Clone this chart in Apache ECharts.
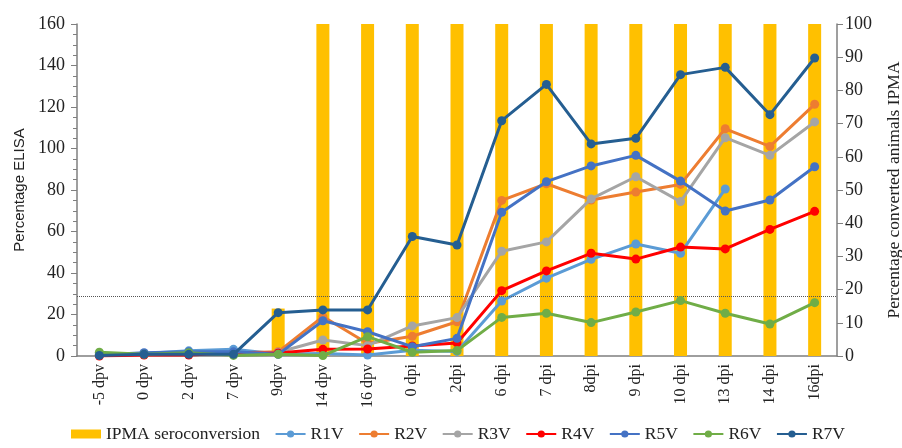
<!DOCTYPE html>
<html>
<head>
<meta charset="utf-8">
<script src="https://cdn.jsdelivr.net/npm/echarts@6/dist/echarts.min.js"></script>
<style>
  html, body { margin: 0; padding: 0; background: #fff; }
  #chart { width: 902px; height: 448px; }
</style>
</head>
<body>
<div id="chart"></div>
<script>
const categories = ["-5 dpv", "0 dpv", "2 dpv", "7 dpv", "9dpv", "14 dpv", "16 dpv", "0 dpi", "2dpi",
  "6 dpi", "7 dpi", "8dpi", "9 dpi", "10 dpi", "13 dpi", "14 dpi", "16dpi"];

// % animals converted by IPMA (right axis)
const ipma = [0, 0, 0, 0, 14.29, 100, 100, 100, 100, 100, 100, 100, 100, 100, 100, 100, 100];

// % ELISA per animal (left axis)
const r1v = [1.0, 1.2, 2.5, 3.2, 1.0, 1.2, 0.5, 2.8, 2.2, 26.5, 37.5, 46.6, 54.0, 49.5, 80.5, null, null];
const r2v = [0.5, 0.8, 1.0, 1.5, 2.0, 19.0, 6.0, 9.5, 16.5, 75.0, 83.0, 75.2, 79.0, 82.7, 109.5, 101.0, 121.3];
const r3v = [0.5, 0.8, 1.0, 1.5, 1.8, 7.7, 5.0, 14.5, 18.5, 50.5, 55.0, 75.7, 86.4, 74.4, 105.2, 96.7, 112.8];
const r4v = [0.0, 0.5, 0.5, 1.5, 1.5, 3.2, 3.4, 4.8, 6.3, 31.5, 41.0, 49.5, 46.7, 52.5, 51.6, 61.0, 69.7];
const r5v = [0.5, 1.6, 2.0, 2.0, 0.8, 17.0, 11.7, 4.5, 8.5, 69.3, 84.0, 91.6, 96.7, 84.3, 69.9, 75.2, 91.2];
const r6v = [1.8, 0.8, 1.6, 0.3, 0.8, 0.2, 9.3, 1.8, 2.6, 18.6, 20.6, 16.1, 21.2, 26.7, 20.6, 15.4, 25.7];
const r7v = [0.3, 0.8, 0.8, 0.8, 20.9, 22.2, 22.2, 57.6, 53.5, 113.4, 130.9, 102.2, 104.9, 135.6, 139.1, 116.3, 143.6];

const cutoff = 29; // ELISA cut-off line

const serif = "'Liberation Serif', 'DejaVu Serif', serif";
const sans = "'Liberation Sans', 'Noto Sans', sans-serif";

const lineSeries = [
  { name: "R1V", data: r1v, color: "#5B9BD5" },
  { name: "R2V", data: r2v, color: "#ED7D31" },
  { name: "R3V", data: r3v, color: "#A5A5A5" },
  { name: "R4V", data: r4v, color: "#FF0000" },
  { name: "R5V", data: r5v, color: "#4472C4" },
  { name: "R6V", data: r6v, color: "#70AD47" },
  { name: "R7V", data: r7v, color: "#255E91" },
].map((s, i) => ({
  name: s.name,
  type: "line",
  yAxisIndex: 0,
  data: s.data,
  symbol: "circle",
  symbolSize: 9,
  connectNulls: false,
  z: 3 + i,
  lineStyle: { color: s.color, width: 3 },
  itemStyle: { color: s.color },
  markLine: i === 0 ? {
    silent: true,
    symbol: "none",
    label: { show: false },
    lineStyle: { color: "#555", type: "dotted", width: 1 },
    data: [{ yAxis: cutoff }],
  } : undefined,
}));

const chart = echarts.init(document.getElementById("chart"));

chart.setOption({
  animation: false,
  grid: { left: 77, right: 65, top: 24, bottom: 92, outerBoundsMode: "none" },
  legend: {
    bottom: 0,
    left: 66,
    itemGap: 14.5,
    itemWidth: 30,
    itemHeight: 9,
    textStyle: { fontFamily: serif, fontSize: 17.5, color: "#222" },
    data: [
      { name: "IPMA seroconversion", icon: "rect" },
      "R1V", "R2V", "R3V", "R4V", "R5V", "R6V", "R7V",
    ],
  },
  xAxis: {
    type: "category",
    data: categories,
    axisLine: { lineStyle: { color: "#7f7f7f", width: 1.5 } },
    axisTick: { show: false },
    axisLabel: {
      rotate: 90,
      fontFamily: serif,
      fontSize: 16,
      color: "#222",
      margin: 8,
      interval: 0,
    },
  },
  yAxis: [
    {
      type: "value",
      min: 0,
      max: 160,
      interval: 20,
      name: "Percentage ELISA",
      nameLocation: "middle",
      nameRotate: 90,
      nameGap: 45,
      nameTextStyle: { fontFamily: sans, fontSize: 15, color: "#222" },
      axisLine: { show: true, lineStyle: { color: "#7f7f7f", width: 1.5 } },
      axisTick: { show: true, length: 6, lineStyle: { color: "#7f7f7f" } },
      minorTick: { show: true, splitNumber: 4, length: 4, lineStyle: { color: "#7f7f7f" } },
      splitLine: { show: false },
      axisLabel: { fontFamily: serif, fontSize: 18, color: "#222", margin: 12 },
    },
    {
      type: "value",
      min: 0,
      max: 100,
      interval: 10,
      position: "right",
      name: "Percentage converted animals IPMA",
      nameLocation: "middle",
      nameRotate: 90,
      nameGap: 48,
      nameTextStyle: { fontFamily: serif, fontSize: 17.5, color: "#222" },
      axisLine: { show: true, lineStyle: { color: "#7f7f7f", width: 1.5 } },
      axisTick: { show: true, length: 6, lineStyle: { color: "#7f7f7f" } },
      splitLine: { show: false },
      axisLabel: { fontFamily: serif, fontSize: 18, color: "#222", margin: 8 },
    },
  ],
  series: [
    {
      name: "IPMA seroconversion",
      type: "bar",
      yAxisIndex: 1,
      data: ipma,
      barWidth: 13,
      z: 1,
      itemStyle: { color: "#FFC000" },
    },
    ...lineSeries,
  ],
});
</script>
</body>
</html>
